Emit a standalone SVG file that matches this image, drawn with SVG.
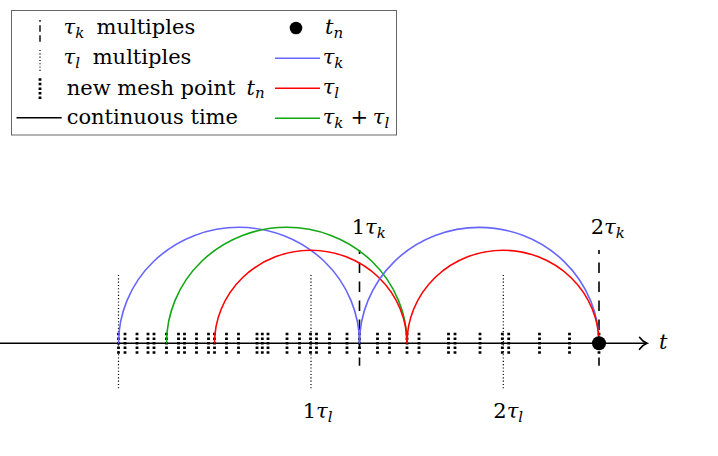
<svg xmlns="http://www.w3.org/2000/svg" xmlns:xlink="http://www.w3.org/1999/xlink" width="718" height="456" viewBox="0 0 718 456" font-family="DejaVu Serif, serif">
<style>
text{font-family:'DejaVu Serif','Liberation Serif',serif;font-size:21px;fill:#000}
.it{font-style:italic}
.sub{font-style:italic;font-size:15px}
.tk{stroke:#000;stroke-width:1.6;fill:none;stroke-dasharray:10.5 8.5}
.tl{stroke:#000;stroke-width:1.2;fill:none;stroke-dasharray:1.1 2.2}
.mesh{stroke:#000;stroke-width:2.8;fill:none;stroke-dasharray:2.5 2.1}
.blue{stroke:#6666ff;stroke-width:1.6;fill:none}
.red{stroke:#ff0000;stroke-width:1.6;fill:none}
.green{stroke:#12a812;stroke-width:1.6;fill:none}
.axis{stroke:#000;stroke-width:1.6;fill:none}
</style>
<defs>
<line id="mp" x1="0" y1="332.8" x2="0" y2="354" class="mesh"/>
</defs>
<rect width="718" height="456" fill="#fff"/>

<g id="legend">
<rect x="11.5" y="10.5" width="385" height="124.5" fill="#fff" stroke="#666" stroke-width="1"/>
<g id="leg-tk">
<line x1="40" y1="20" x2="40" y2="41.7" class="tk" style="stroke-dasharray:6.5 3.5;stroke-dashoffset:4.8;stroke-width:1.4"/>
<text x="63.5" y="34.3"><tspan class="it">τ</tspan><tspan class="sub" dy="3.6">k</tspan><tspan x="96.5" dy="-3.6">multiples</tspan></text>
</g>
<g id="leg-tl">
<line x1="40" y1="50" x2="40" y2="72" class="tl"/>
<text x="63.5" y="64"><tspan class="it">τ</tspan><tspan class="sub" dy="3.6">l</tspan><tspan x="92.7" dy="-3.6">multiples</tspan></text>
</g>
<g id="leg-mesh">
<line x1="40" y1="78.2" x2="40" y2="100" class="mesh"/>
<text x="66.7" y="94.5"><tspan>new mesh point</tspan><tspan x="246.5" class="it">t</tspan><tspan class="sub" dy="3.6">n</tspan></text>
</g>
<g id="leg-cont">
<line x1="16.5" y1="117.8" x2="61.7" y2="117.8" class="axis" style="stroke-width:1.4"/>
<text x="66.7" y="124">continuous time</text>
</g>
<g id="leg-dot">
<circle cx="296" cy="28" r="6.3" fill="#000"/>
<text x="325" y="34.3"><tspan class="it">t</tspan><tspan class="sub" dy="3.6">n</tspan></text>
</g>
<g id="leg-blue">
<line x1="275" y1="58.3" x2="320" y2="58.3" class="blue"/>
<text x="322.7" y="64.3"><tspan class="it">τ</tspan><tspan class="sub" dy="3.6">k</tspan></text>
</g>
<g id="leg-red">
<line x1="275" y1="88.3" x2="320" y2="88.3" class="red"/>
<text x="322.7" y="94.3"><tspan class="it">τ</tspan><tspan class="sub" dy="3.6">l</tspan></text>
</g>
<g id="leg-green">
<line x1="275" y1="118.3" x2="320" y2="118.3" class="green"/>
<text x="322.7" y="124.3"><tspan class="it">τ</tspan><tspan class="sub" dy="3.6">k</tspan><tspan x="350.5" dy="-3.6">+</tspan><tspan x="372.8" class="it">τ</tspan><tspan class="sub" dy="3.6">l</tspan></text>
</g>
</g>

<g id="tau-l-lines">
<line x1="118.5" y1="275" x2="118.5" y2="389" class="tl"/>
<line x1="311" y1="275" x2="311" y2="389" class="tl"/>
<line x1="503.3" y1="275" x2="503.3" y2="389" class="tl"/>
</g>

<g id="tau-k-lines">
<line x1="359.5" y1="250" x2="359.5" y2="365.7" class="tk" style="stroke-dashoffset:6.5"/>
<line x1="599" y1="250" x2="599" y2="365.7" class="tk" style="stroke-dashoffset:6.5"/>
</g>

<g id="mesh-points">
<use xlink:href="#mp" x="118.5"/><use xlink:href="#mp" x="125"/><use xlink:href="#mp" x="137"/>
<use xlink:href="#mp" x="148"/><use xlink:href="#mp" x="154"/><use xlink:href="#mp" x="166.5"/>
<use xlink:href="#mp" x="178.5"/><use xlink:href="#mp" x="184.5"/><use xlink:href="#mp" x="196.5"/>
<use xlink:href="#mp" x="208.5"/><use xlink:href="#mp" x="214.5"/><use xlink:href="#mp" x="226.5"/>
<use xlink:href="#mp" x="238.5"/><use xlink:href="#mp" x="257"/><use xlink:href="#mp" x="262.3"/>
<use xlink:href="#mp" x="268"/><use xlink:href="#mp" x="287"/><use xlink:href="#mp" x="299.5"/>
<use xlink:href="#mp" x="310.5"/><use xlink:href="#mp" x="316.5"/><use xlink:href="#mp" x="329.5"/>
<use xlink:href="#mp" x="347"/><use xlink:href="#mp" x="359.5"/><use xlink:href="#mp" x="377.5"/>
<use xlink:href="#mp" x="389.5"/><use xlink:href="#mp" x="407"/><use xlink:href="#mp" x="419"/>
<use xlink:href="#mp" x="448.5"/><use xlink:href="#mp" x="455"/><use xlink:href="#mp" x="480"/>
<use xlink:href="#mp" x="502.3"/><use xlink:href="#mp" x="508.7"/><use xlink:href="#mp" x="539.5"/>
<use xlink:href="#mp" x="569.5"/><use xlink:href="#mp" x="599"/>
</g>

<g id="time-axis">
<line x1="0" y1="343.3" x2="646" y2="343.3" class="axis"/>
<path d="M639.5 337.3 Q642.5 341.6 647 343.3 Q642.5 345 639.5 349.3" class="axis" stroke-linecap="round"/>
<text x="659" y="348.5" class="it">t</text>
</g>

<g id="connectors">
<path d="M118.5 343.3 A120.5 116 0 0 1 359.5 343.3" class="blue"/>
<path d="M166.5 343.3 A120.25 116 0 0 1 407 343.3" class="green"/>
<path d="M214.5 343.3 A96.25 93 0 0 1 407 343.3" class="red"/>
<path d="M359.5 343.3 A119.75 116 0 0 1 599 343.3" class="blue"/>
<path d="M407 343.3 A96 93 0 0 1 599 343.3" class="red"/>
</g>

<g id="tn-point">
<circle cx="599" cy="343.3" r="7" fill="#000"/>
</g>

<g id="labels">
<text x="351.7" y="234.3">1<tspan class="it">τ</tspan><tspan class="sub" dy="3.6">k</tspan></text>
<text x="590.7" y="234.3">2<tspan class="it">τ</tspan><tspan class="sub" dy="3.6">k</tspan></text>
<text x="302.7" y="418.3">1<tspan class="it">τ</tspan><tspan class="sub" dy="3.6">l</tspan></text>
<text x="493.3" y="418.3">2<tspan class="it">τ</tspan><tspan class="sub" dy="3.6">l</tspan></text>
</g>
</svg>
